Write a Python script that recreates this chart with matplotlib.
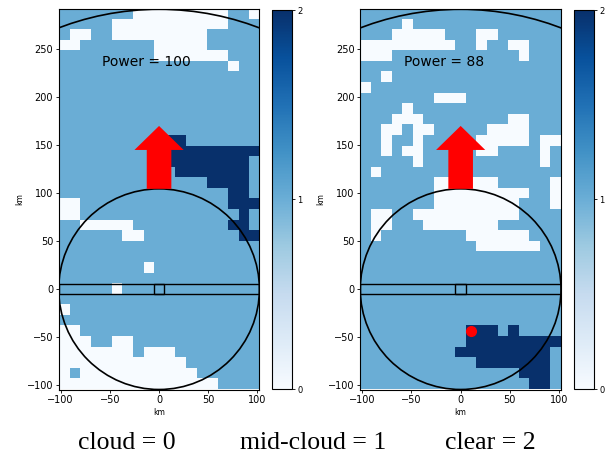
import matplotlib
matplotlib.use("Agg")
import matplotlib.pyplot as plt
from matplotlib.patches import Ellipse, Rectangle
import numpy as np

# cloud mask, 36 rows (top = north) x 19 columns; 0 cloud, 1 mid-cloud, 2 clear
left_rows = [
    "1111111000000000110",
    "1111100000000000111",
    "1001100000000011111",
    "0011111110000011111",
    "1111111110000000111",
    "1111111111111111011",
    "1111111111111111111",
    "1111111111111111111",
    "1111111111111111111",
    "1111111111111111111",
    "1111111111111111111",
    "1111111111111111111",
    "1111111111221111111",
    "1111111111222222222",
    "1111111111222222221",
    "1111111111122222221",
    "1111111111111122221",
    "1111111111111111221",
    "0011111111111111222",
    "0011111111111111121",
    "1100000111111111221",
    "1111110011111111122",
    "1111111111111111111",
    "1111111111111111111",
    "1111111101111111111",
    "1111111111111111111",
    "1111101111111111111",
    "1111111111111111111",
    "0111111111111111111",
    "1111111111111111111",
    "0011111111111111111",
    "0001100111111111111",
    "0000000100011111111",
    "0000000000001111111",
    "0100000000000111111",
    "0000000000000001111",
]

right_rows = [
    "1111111111111111111",
    "1111011111111111111",
    "1110000011100111111",
    "0000000001101100111",
    "0001111111111110111",
    "1111111111111111111",
    "1101111111111111111",
    "0111111111111111111",
    "1111111000111111111",
    "1111011111111111111",
    "1110001111111100111",
    "1100100111110000111",
    "1101101111100000100",
    "1101001111100111101",
    "1111101111111111101",
    "1011111111111111111",
    "1111111000000111110",
    "1111111000000000110",
    "1111111000000001110",
    "1001100000000001111",
    "1001110000000111111",
    "1011111111000000111",
    "1111111111100000011",
    "1111111111111111111",
    "1111111111111111111",
    "1111111111111111111",
    "1111111111111111111",
    "1111111111111111111",
    "1111111111111111111",
    "1111111111111111111",
    "1111111111222121111",
    "1111111111222222222",
    "1111111112222222221",
    "1111111111122222221",
    "1111111111111112221",
    "1111111111111111221",
]

powers = [100, 88]
dot_x = [10.7]
dot_y = [-44.0]
legend_labels = ["cloud = 0", "mid-cloud = 1", "clear = 2"]

x_lim = (-102.0, 102.0)
y_lim = (-104.5, 291.5)
xr = x_lim[1] / abs(y_lim[0])   # x/y scale of the circles


def to_grid(rows):
    return np.array([[int(c) for c in r] for r in rows])


W, H = 614, 461
fig = plt.figure(figsize=(W / 100, H / 100), dpi=100)

panels = [(58.7, 272.3, left_rows), (360.3, 574.3, right_rows)]
for k, (x0, cx0, rows) in enumerate(panels):
    ax = fig.add_axes([x0 / W, (H - 389.5) / H, 200.7 / W, 380.2 / H])
    im = ax.imshow(to_grid(rows), cmap="Blues", vmin=0, vmax=2,
                   extent=[x_lim[0], x_lim[1], y_lim[0], y_lim[1]],
                   origin="upper", aspect="auto", interpolation="nearest")

    ax.add_patch(Ellipse((0, 0), 2 * 104.5 * xr, 2 * 104.5, fill=False, color="k", lw=1.2))
    ax.add_patch(Ellipse((0, 0), 2 * y_lim[1] * xr, 2 * y_lim[1], fill=False, color="k", lw=1.2))
    ax.add_patch(Rectangle((x_lim[0], -5.5), x_lim[1] - x_lim[0], 11, fill=False, color="k", lw=1))
    ax.add_patch(Rectangle((-5.37, -5.5), 10.74, 11, fill=False, color="k", lw=1))
    ax.arrow(0, 104.5, 0, 65.5, width=25, head_width=50, head_length=25,
             length_includes_head=True, color="red", lw=0)
    ax.text(-58, 232, "Power = %d" % powers[k], fontsize=10)
    if k == 1:
        ax.plot(dot_x, dot_y, "o", color="red", ms=7)

    ax.set_xlim(x_lim)
    ax.set_ylim(y_lim)
    ax.set_xticks([-100, -50, 0, 50, 100])
    ax.set_yticks(np.arange(-100, 251, 50))
    ax.tick_params(labelsize=7, length=2.5, width=0.6, pad=1.5)
    ax.set_xlabel("km", fontsize=5.5, labelpad=2)
    ax.set_ylabel("km", fontsize=5.5, labelpad=2)

    cax = fig.add_axes([cx0 / W, (H - 389) / H, 19.5 / W, 379 / H])
    cb = fig.colorbar(im, cax=cax, ticks=[0, 1, 2])
    cb.ax.tick_params(labelsize=6, length=2.5, width=0.6, pad=1.5)

for label, xc in zip(legend_labels, [127, 313, 490]):
    fig.text(xc / W, (H - 443) / H, label, fontsize=18.5, family="Liberation Serif",
             ha="center", va="center")

fig.savefig("out.png", dpi=100)
